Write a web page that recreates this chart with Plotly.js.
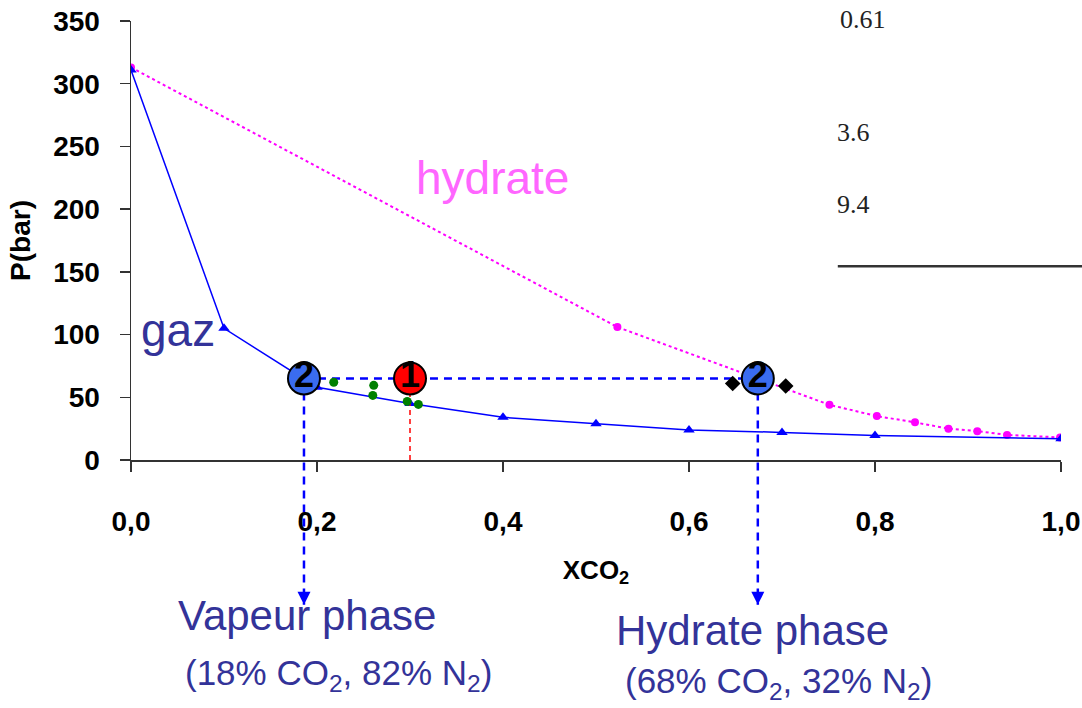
<!DOCTYPE html>
<html><head><meta charset="utf-8">
<script src="https://cdn.plot.ly/plotly-3.0.1.min.js"></script>
<style>html,body{margin:0;padding:0;background:#fff}</style>
</head><body>
<div id="chart" style="width:1082px;height:708px"></div>
<script>
// gas (vapour) equilibrium curve
const gazX = [0, 0.1, 0.2, 0.3, 0.4, 0.5, 0.6, 0.7, 0.8, 1.0];
const gazP = [311, 105, 58, 45, 34, 29, 24, 22, 19.5, 17];
// hydrate equilibrium curve
const hydX = [0, 0.523, 0.751, 0.802, 0.843, 0.879, 0.910, 0.942, 0.999];
const hydP = [313, 106, 44, 35, 30, 25, 23, 20, 18];
// experimental points (green)
const expX = [0.218, 0.261, 0.260, 0.297, 0.309];
const expP = [62, 59.5, 51.5, 46.7, 44.3];
// experimental hydrate points (black diamonds)
const diaX = [0.647, 0.704];
const diaP = [61, 59];
// state markers
const stateX = [0.186, 0.3, 0.674];
const stateP = [65, 65, 65];
const stateLabels = ['2', '1', '2'];
const stateColors = ['#3a6cf0', '#ff0000', '#3a6cf0'];
const feedX = 0.3, vapourX = 0.186, hydrateX = 0.674, tieP = 65;
const xTicks = [0, 0.2, 0.4, 0.6, 0.8, 1.0];
const yTicks = [0, 50, 100, 150, 200, 250, 300, 350];
const tableVals = ['0.61', '3.6', '9.4'];

const YMAX = 350;
const py = p => p / YMAX;           // data P -> paper y
const arrowTipY = -0.33;
const SANS = 'Liberation Sans, Arial';
const SERIF = 'Liberation Serif, Times New Roman';

const traces = [
  {x: hydX, y: hydP, mode: 'lines+markers', line: {color: '#ff00ff', width: 2, dash: 'dot'},
   marker: {symbol: 'circle', size: 8, color: '#ff00ff'}, hoverinfo: 'skip'},
  {x: gazX, y: gazP, mode: 'lines+markers', line: {color: '#0000ff', width: 1.5},
   marker: {symbol: 'triangle-up', size: 10, color: '#0000ff'}, hoverinfo: 'skip'},
  {x: [feedX, feedX], y: [0, tieP], mode: 'lines', line: {color: '#ff0000', width: 1.5, dash: '5px,4px'}},
  {x: [vapourX, hydrateX], y: [tieP, tieP], mode: 'lines', line: {color: '#0000ff', width: 2.5, dash: '8px,6px'}},
  {x: expX, y: expP, mode: 'markers', marker: {symbol: 'circle', size: 9, color: '#008000'}},
  {x: diaX, y: diaP, mode: 'markers', marker: {symbol: 'diamond', size: 12, color: '#000000'}},
  {x: stateX, y: stateP, mode: 'markers+text', text: stateLabels, textposition: 'middle center',
   textfont: {family: SANS, size: 36, color: '#000', weight: 'bold'},
   marker: {symbol: 'circle', size: 32, color: stateColors, line: {color: '#000', width: 2}}}
];

const shapes = [
  {type: 'line', xref: 'paper', yref: 'paper', x0: vapourX, x1: vapourX, y0: py(tieP), y1: arrowTipY,
   line: {color: '#0000ff', width: 2.5, dash: '8px,6px'}, layer: 'below'},
  {type: 'line', xref: 'paper', yref: 'paper', x0: hydrateX, x1: hydrateX, y0: py(tieP), y1: arrowTipY,
   line: {color: '#0000ff', width: 2.5, dash: '8px,6px'}, layer: 'below'},
  {type: 'line', xref: 'paper', yref: 'paper', x0: 0.76, x1: 1.03, y0: 0.4416, y1: 0.4416,
   line: {color: '#333', width: 2.5}}
];

const txt = (x, y, text, size, color, family, xanchor) => ({
  x: x, y: y, xref: 'paper', yref: 'paper', text: text, showarrow: false,
  xanchor: xanchor || 'center', yanchor: 'middle',
  font: {family: family || SANS, size: size, color: color}
});

const ann = [
  {x: vapourX, y: arrowTipY, xref: 'paper', yref: 'paper', text: '', showarrow: true,
   ax: 0, ay: -14, arrowhead: 2, arrowsize: 1.3, arrowwidth: 2, arrowcolor: '#0000ff'},
  {x: hydrateX, y: arrowTipY, xref: 'paper', yref: 'paper', text: '', showarrow: true,
   ax: 0, ay: -14, arrowhead: 2, arrowsize: 1.3, arrowwidth: 2, arrowcolor: '#0000ff'},
  {x: 0.389, y: 225, xref: 'x', yref: 'y', text: 'hydrate', showarrow: false,
   font: {family: SANS, size: 46, color: '#ff66ff'}},
  {x: 0.0505, y: 104, xref: 'x', yref: 'y', text: 'gaz', showarrow: false,
   font: {family: SANS, size: 46, color: '#333399'}},
  txt(0.189, -0.355, 'Vapeur phase', 42, '#333399'),
  txt(0.2226, -0.490, '(18% CO<sub>2</sub>, 82% N<sub>2</sub>)', 35, '#333399'),
  txt(0.668, -0.389, 'Hydrate phase', 42, '#333399'),
  txt(0.696, -0.508, '(68% CO<sub>2</sub>, 32% N<sub>2</sub>)', 35, '#333399'),
  txt(0.760, 1.003, tableVals[0], 26, '#222', SERIF, 'left'),
  txt(0.757, 0.745, tableVals[1], 26, '#222', SERIF, 'left'),
  txt(0.757, 0.581, tableVals[2], 26, '#222', SERIF, 'left')
];

const layout = {
  width: 1082, height: 708,
  margin: {l: 131, r: 21, t: 21, b: 248},
  paper_bgcolor: '#fff', plot_bgcolor: '#fff',
  showlegend: false,
  separators: ', ',
  font: {family: SANS, color: '#000'},
  xaxis: {
    range: [0, 1], tickvals: xTicks, tickformat: '.1f',
    showgrid: false, zeroline: false, showline: true, linecolor: '#333', linewidth: 1.5,
    ticks: 'outside', ticklen: 10, tickcolor: '#333', tickwidth: 1.5,
    ticklabelstandoff: 26,
    tickfont: {size: 28, weight: 'bold', color: '#000'},
    title: {text: 'XCO<sub>2</sub>', font: {size: 26, weight: 'bold', color: '#000'}, standoff: 24}
  },
  yaxis: {
    range: [0, YMAX], tickvals: yTicks,
    showgrid: false, zeroline: false, showline: true, linecolor: '#333', linewidth: 1.5,
    ticks: 'outside', ticklen: 10, tickcolor: '#333', tickwidth: 1.5,
    ticklabelstandoff: 14,
    tickfont: {size: 28, weight: 'bold', color: '#000'},
    title: {text: 'P(bar)', font: {size: 28, weight: 'bold', color: '#000'}, standoff: 14}
  },
  shapes: shapes,
  annotations: ann
};

Plotly.newPlot('chart', traces, layout, {displayModeBar: false, staticPlot: true});
</script>
</body></html>
